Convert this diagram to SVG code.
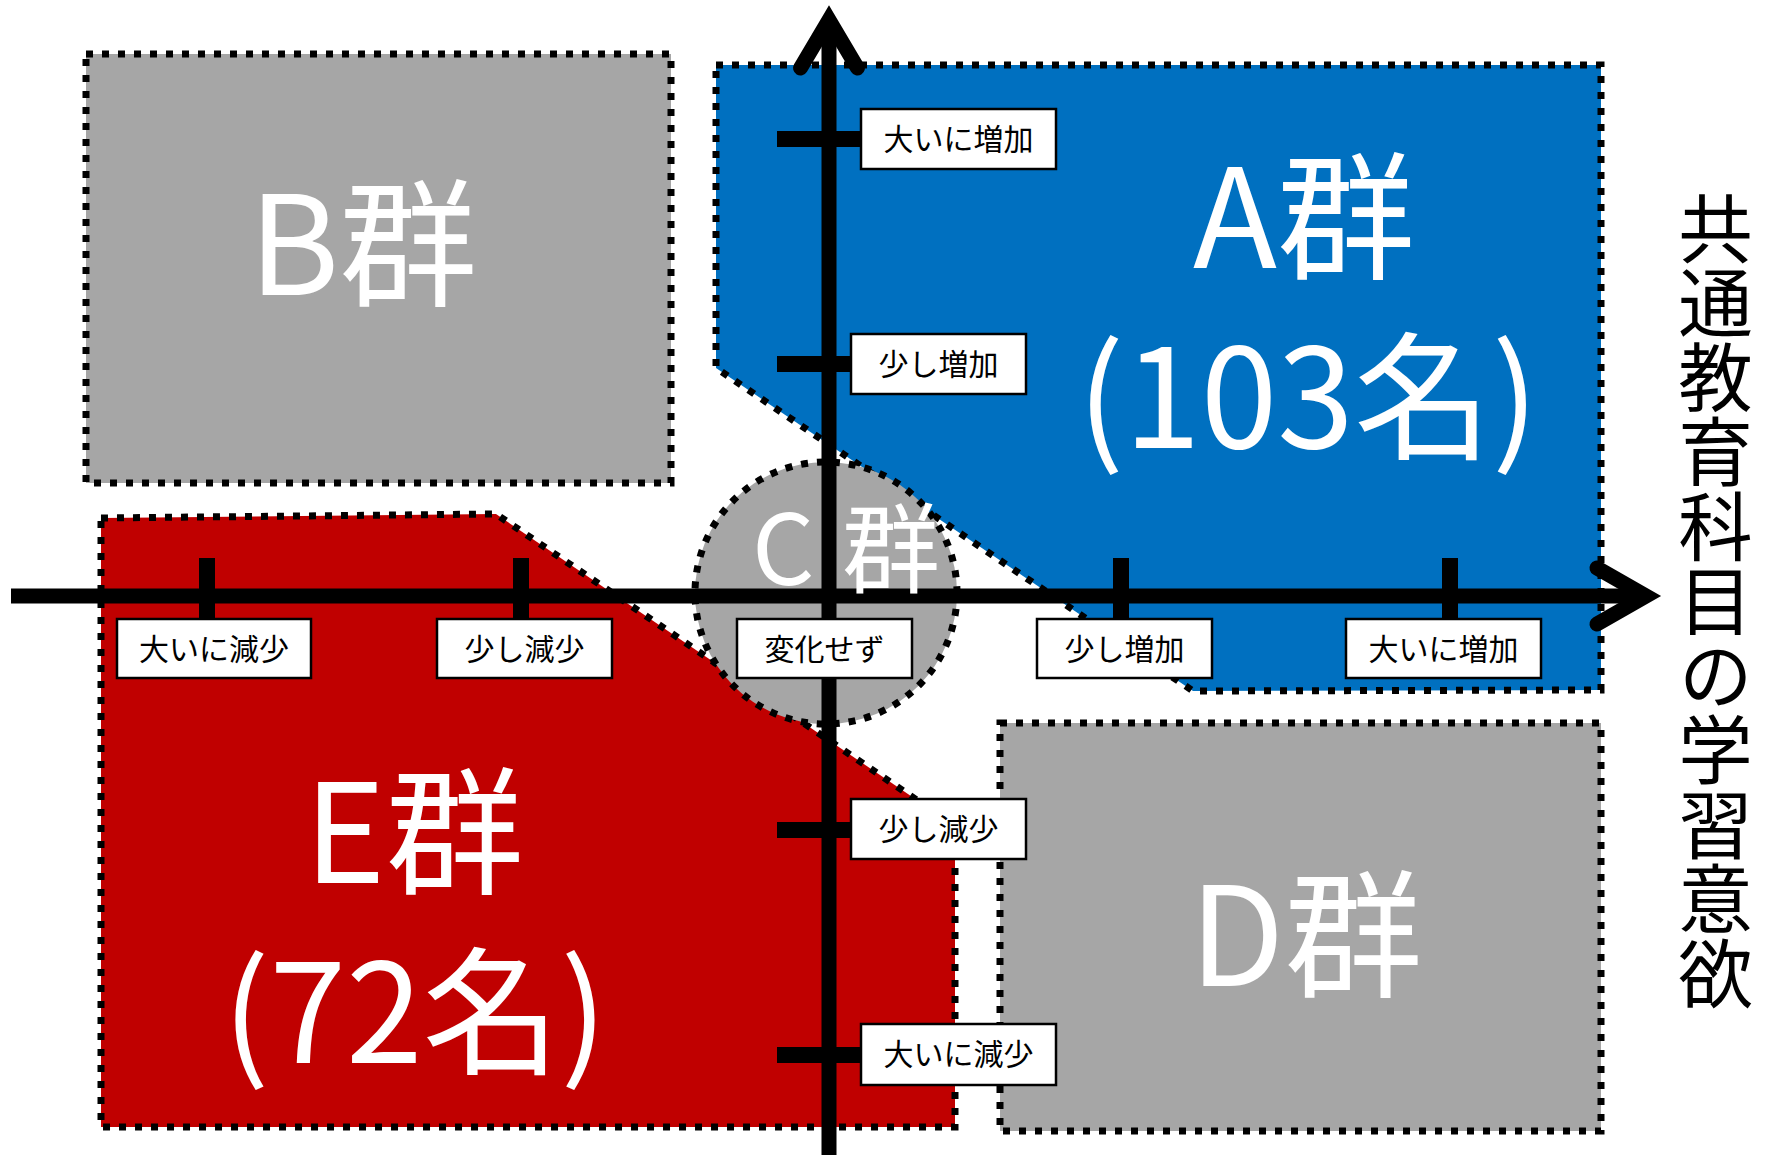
<svg xmlns="http://www.w3.org/2000/svg" width="1768" height="1155" viewBox="0 0 1768 1155">
<defs>
<style>
.dot{stroke:#000;stroke-width:7;stroke-dasharray:7 9;}
.gray{fill:#A6A6A6;}
.blue{fill:#0070C0;}
.red{fill:#C00000;}
.ax{stroke:#000;stroke-width:15;fill:none;}
.tick{stroke:#000;stroke-width:16;}
.head{stroke:#000;stroke-width:15;fill:none;stroke-linecap:round;stroke-linejoin:miter;}
.box{fill:#fff;stroke:#000;stroke-width:2.5;}
text{font-family:"Noto Sans CJK JP","Noto Sans",sans-serif;}
.big{font-size:138px;fill:#fff;text-anchor:middle;}
.mid{font-size:98px;fill:#fff;}
.lbl{font-size:30px;fill:#000;text-anchor:middle;}
.ttl{font-size:74.5px;fill:#000;writing-mode:vertical-rl;}
</style>
</defs>
<rect width="1768" height="1155" fill="#fff"/>
<g id="node-B">
<rect class="gray dot" x="86" y="54" width="585" height="429"/>
<text class="big" x="363" y="295">B群</text>
</g>
<g id="node-D">
<rect class="gray dot" x="1000" y="723" width="601" height="408"/>
<text class="big" x="1306" y="986">D群</text>
</g>
<g id="node-A">
<polygon class="blue dot" points="716,65 1601,65 1601,690 1193,691 716,368"/>
<text class="big"><tspan x="1304" y="268">A群</tspan><tspan x="1308" y="448">(103名)</tspan></text>
</g>
<g id="node-E">
<polygon class="red dot" points="101,518 496,514 955,826 955,1127 101,1127"/>
<text class="big"><tspan x="414" y="883">E群</tspan><tspan x="415" y="1063">(72名)</tspan></text>
</g>
<g id="node-C">
<circle class="gray dot" cx="826" cy="593" r="131"/>
</g>
<g id="connectors">
<line class="ax" x1="829" y1="20" x2="829" y2="1155"/>
<polyline class="head" points="800.5,68 829,20 857.5,68"/>
<line class="ax" x1="11" y1="596" x2="1646" y2="596"/>
<polyline class="head" points="1597,568 1646,596 1597,624"/>
<line class="tick" x1="207" y1="558" x2="207" y2="630"/>
<line class="tick" x1="521" y1="558" x2="521" y2="630"/>
<line class="tick" x1="1121" y1="558" x2="1121" y2="630"/>
<line class="tick" x1="1450" y1="558" x2="1450" y2="630"/>
<line class="tick" x1="777" y1="139" x2="870" y2="139"/>
<line class="tick" x1="777" y1="364" x2="860" y2="364"/>
<line class="tick" x1="777" y1="830" x2="860" y2="830"/>
<line class="tick" x1="777" y1="1055" x2="870" y2="1055"/>
</g>
<g id="node-C-label">
<text class="mid" y="585"><tspan x="752">C</tspan><tspan x="842">群</tspan></text>
</g>
<g id="label-x1"><rect class="box" x="117" y="619" width="194" height="59"/><text class="lbl" x="214" y="660">大いに減少</text></g>
<g id="label-x2"><rect class="box" x="437" y="619" width="175" height="59"/><text class="lbl" x="524.5" y="660">少し減少</text></g>
<g id="label-x3"><rect class="box" x="737" y="619" width="175" height="59"/><text class="lbl" x="824.5" y="660">変化せず</text></g>
<g id="label-x4"><rect class="box" x="1037" y="619" width="175" height="59"/><text class="lbl" x="1124.5" y="660">少し増加</text></g>
<g id="label-x5"><rect class="box" x="1346" y="619" width="195" height="59"/><text class="lbl" x="1443.5" y="660">大いに増加</text></g>
<g id="label-y1"><rect class="box" x="861" y="109" width="195" height="60"/><text class="lbl" x="958.5" y="150">大いに増加</text></g>
<g id="label-y2"><rect class="box" x="851" y="334" width="175" height="60"/><text class="lbl" x="938.5" y="375">少し増加</text></g>
<g id="label-y3"><rect class="box" x="851" y="799" width="175" height="60"/><text class="lbl" x="938.5" y="840">少し減少</text></g>
<g id="label-y4"><rect class="box" x="861" y="1024" width="195" height="61"/><text class="lbl" x="958.5" y="1065">大いに減少</text></g>
<g id="axis-title">
<text class="ttl" x="1715.5" y="191">共通教育科目の学習意欲</text>
</g>
</svg>
